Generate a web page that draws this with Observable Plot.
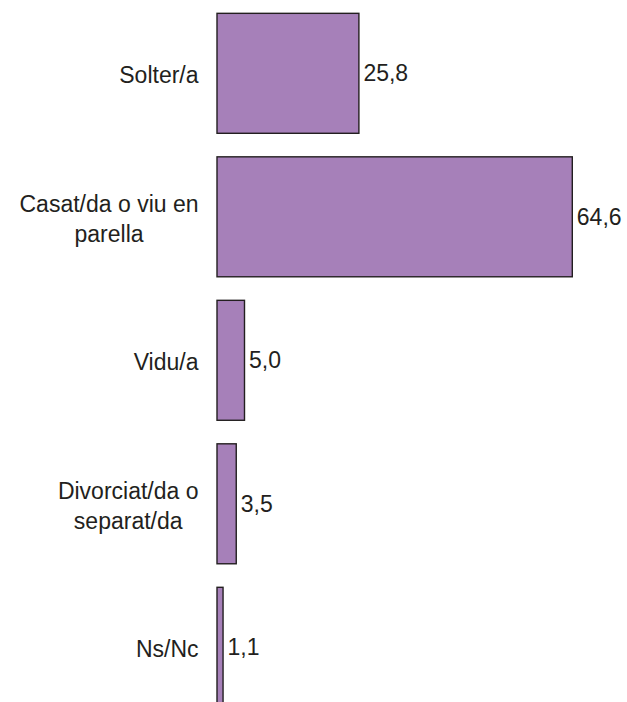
<!DOCTYPE html>
<html>
<head>
<meta charset="utf-8">
<script src="https://cdn.jsdelivr.net/npm/d3@7"></script>
<script src="https://cdn.jsdelivr.net/npm/@observablehq/plot@0.6"></script>
<style>
  html, body { margin: 0; padding: 0; background: #fff; }
  #chart { width: 627px; height: 702px; overflow: hidden; }
</style>
</head>
<body>
<div id="chart"></div>
<script>
const categories = ["Solter/a", "Casat/da o viu en\nparella", "Vidu/a", "Divorciat/da o\nseparat/da", "Ns/Nc"];
const values = [25.8, 64.6, 5.0, 3.5, 1.1];
const valueLabels = ["25,8", "64,6", "5,0", "3,5", "1,1"];

const data = categories.map((c, i) => ({category: c, value: values[i], label: valueLabels[i]}));

const FONT = "'Liberation Sans', Arial, sans-serif";
const FS = 23;
const ctx = document.createElement("canvas").getContext("2d");
ctx.font = `${FS}px ${FONT}`;
const blockWidth = s => Math.max(...s.split("\n").map(l => ctx.measureText(l).width));

const catMarks = categories.map(c =>
  Plot.text([c], {
    x: () => 0,
    y: d => d,
    text: d => d,
    textAnchor: "middle",
    lineAnchor: "middle",
    lineHeight: 1.31,
    dx: -19 - blockWidth(c) / 2,
    fill: "#231f20"
  })
);

const chart = Plot.plot({
  width: 627,
  height: 702,
  marginLeft: 217,
  marginRight: 25,
  marginTop: 0,
  marginBottom: 0,
  style: {fontFamily: FONT, fontSize: FS + "px", background: "#fff", overflow: "hidden"},
  x: {domain: [0, 70], axis: null},
  y: {domain: categories, range: [-10.2, 730.8], padding: 0.164, round: false, axis: null},
  marks: [
    Plot.barX(data, {x: "value", y: "category", fill: "#a680b9", stroke: "#231f20", strokeWidth: 1.4}),
    Plot.text(data, {x: "value", y: "category", text: "label", textAnchor: "start", dx: 4, fill: "#231f20"}),
    ...catMarks
  ]
});
document.getElementById("chart").appendChild(chart);
</script>
</body>
</html>
